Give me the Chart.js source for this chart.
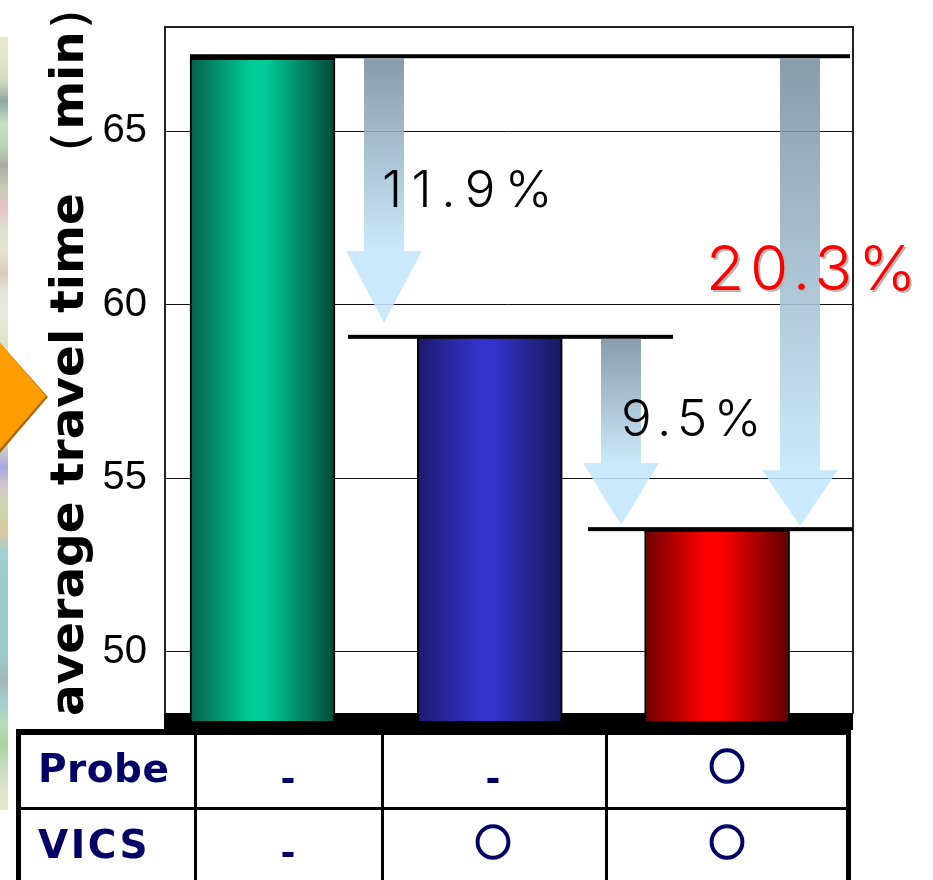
<!DOCTYPE html>
<html>
<head>
<meta charset="utf-8">
<script src="https://cdn.jsdelivr.net/npm/chart.js@4"></script>
<style>
    html, body { margin: 0; padding: 0; background: #fff; }
    canvas { display: block; }
</style>
</head>
<body>
<canvas id="travel-chart" width="933" height="880"></canvas>
<script>
// DATA
const barSlots = [1, 2, 3];
const travelTimes = [67.1, 59.1, 53.5];
const yTicks = [50, 55, 60, 65];
const yTitle = 'average travel time （min）';
const rowNames = ['Probe', 'VICS'];
const probeRow = ['-', '-', '○'];
const vicsRow = ['-', '○', '○'];
const dropLabels = ['11.9%', '9.5%', '20.3%'];

// bar face colours: edge, centre, edge
const barShades = [
    ['#04614a', '#00cc99', '#034a38'],
    ['#1b1b6e', '#3333cc', '#18185e'],
    ['#6e0000', '#ff0000', '#5e0000']
];
const NAVY = '#000066';

// colours of the map sliver down the left edge, top to bottom
const mapBands = ['#e8e8cc', '#dfe6c8', '#d4dcc0', '#8fa6a8', '#c4e0c0', '#bcd8b8', '#a8aca0',
    '#c8ccb4', '#e8c4c8', '#d8e4d0', '#e8e0d0', '#d8ccb8', '#e6e6e0', '#e8e8dc', '#e4e4c8',
    '#cfe0d0', '#b0ccc8', '#d0ccb4', '#c8c4b0', '#d8d4c4', '#a8a8e0', '#d8c8c8', '#c8d8a8',
    '#e0c8a0', '#a0d0d0', '#9ecccc', '#9ecccc', '#9ecccc', '#9ecccc', '#9ac8c8', '#a4b8b8',
    '#a0d0d0', '#b8dcb8', '#a8d4a0', '#c8dcc0', '#dce4c8', '#e8e8c8'];

// swap the flat bar colour for a left-to-right shade once bar positions are known
function shadeBars(chart) {
    chart.getDatasetMeta(0).data.forEach((bar, i) => {
        const g = chart.ctx.createLinearGradient(bar.x - 72, 0, bar.x + 72, 0);
        const s = barShades[i];
        g.addColorStop(0, s[0]);
        g.addColorStop(0.42, s[1]);
        g.addColorStop(0.52, s[1]);
        g.addColorStop(1, s[2]);
        bar.options.backgroundColor = g;
    });
}

// down arrow with a fade from slate to pale blue
function dropArrow(ctx, cx, fromY, headY, tipY) {
    const g = ctx.createLinearGradient(0, fromY, 0, headY);
    g.addColorStop(0, 'rgba(120,143,158,0.88)');
    g.addColorStop(1, 'rgba(196,230,252,0.88)');
    ctx.fillStyle = g;
    ctx.beginPath();
    ctx.moveTo(cx - 20, fromY);
    ctx.lineTo(cx + 20, fromY);
    ctx.lineTo(cx + 20, headY);
    ctx.lineTo(cx + 38, headY);
    ctx.lineTo(cx, tipY);
    ctx.lineTo(cx - 38, headY);
    ctx.lineTo(cx - 20, headY);
    ctx.closePath();
    ctx.fill();
}

function levelLine(ctx, x1, x2, y) {
    ctx.fillStyle = '#000';
    ctx.fillRect(x1, y - 2, x2 - x1, 4);
}

function drawMapEdge(ctx) {
    const g = ctx.createLinearGradient(0, 37, 0, 810);
    mapBands.forEach((c, i) => g.addColorStop(i / (mapBands.length - 1), c));
    ctx.fillStyle = g;
    ctx.fillRect(0, 37, 8, 773);
    // orange pointer
    ctx.fillStyle = '#a86a00';
    ctx.beginPath();
    ctx.moveTo(0, 343);
    ctx.lineTo(48, 397);
    ctx.lineTo(0, 453);
    ctx.closePath();
    ctx.fill();
    ctx.fillStyle = '#ff9c00';
    ctx.beginPath();
    ctx.moveTo(0, 343);
    ctx.lineTo(46, 396);
    ctx.lineTo(0, 449);
    ctx.closePath();
    ctx.fill();
}

function drawSpacedText(ctx, text, x, y, font, color, spacing) {
    ctx.font = font;
    ctx.letterSpacing = spacing;
    ctx.fillStyle = color;
    ctx.fillText(text, x, y);
    ctx.letterSpacing = '0px';
}

function drawCompareTable(ctx) {
    ctx.fillStyle = '#000';
    ctx.fillRect(16, 729, 835, 6);
    ctx.fillRect(16, 729, 5, 151);
    ctx.fillRect(846, 729, 5, 151);
    ctx.fillRect(21, 807, 825, 3);
    [194, 381, 605].forEach(x => ctx.fillRect(x, 735, 3, 145));

    ctx.textAlign = 'left';
    ctx.textBaseline = 'alphabetic';
    drawSpacedText(ctx, rowNames[0], 38, 782, 'bold 39px "DejaVu Sans"', NAVY, '0.5px');
    drawSpacedText(ctx, rowNames[1], 38, 858, 'bold 39px "DejaVu Sans"', NAVY, '2.5px');

    const cols = [288, 493, 727];
    [probeRow, vicsRow].forEach((row, r) => {
        row.forEach((mark, i) => {
            ctx.textAlign = 'center';
            ctx.fillStyle = NAVY;
            if (mark === '-') {
                ctx.font = 'bold 36px "DejaVu Sans"';
                ctx.fillText(mark, cols[i], r ? 865 : 791);
            } else {
                // the ring glyph is hairline at this size, so thicken it
                ctx.font = 'bold 36px "Noto Sans CJK JP"';
                ctx.strokeStyle = NAVY;
                ctx.lineWidth = 2.4;
                ctx.strokeText(mark, cols[i], r ? 856 : 780);
                ctx.fillText(mark, cols[i], r ? 856 : 780);
            }
        });
    });
}

const overlay = {
    id: 'overlay',
    beforeDraw(chart) {
        drawMapEdge(chart.ctx);
    },
    beforeDatasetsDraw(chart) {
        // heavy base band under the bars
        chart.ctx.fillStyle = '#000';
        chart.ctx.fillRect(164, 713, 689, 17);
        shadeBars(chart);
    },
    afterDraw(chart) {
        const ctx = chart.ctx;
        const yS = chart.scales.y;
        const lv = travelTimes.map(v => yS.getPixelForValue(v));

        ctx.save();
        // plot frame
        ctx.strokeStyle = '#222';
        ctx.lineWidth = 2;
        ctx.beginPath();
        ctx.moveTo(165, 714);
        ctx.lineTo(165, 27);
        ctx.lineTo(853, 27);
        ctx.lineTo(853, 714);
        ctx.stroke();

        // level lines sitting on top of each bar
        levelLine(ctx, 190, 850, lv[0] - 2);
        levelLine(ctx, 348, 673, lv[1] + 1);
        levelLine(ctx, 588, 853, lv[2] - 1);

        // drop arrows
        dropArrow(ctx, 384, lv[0], 251, 323);
        dropArrow(ctx, 621, lv[1] + 3, 463, 525);
        dropArrow(ctx, 800, lv[0], 470, 526);

        ctx.textAlign = 'left';
        ctx.textBaseline = 'alphabetic';
        drawSpacedText(ctx, dropLabels[0], 382, 207, '300 51px "Inter"', '#000', '9.5px');
        drawSpacedText(ctx, dropLabels[1], 621, 436, '300 51px "Inter"', '#000', '6.5px');
        drawSpacedText(ctx, dropLabels[2], 708, 292, '300 62px "Inter"', '#b8b8b8', '6px');
        drawSpacedText(ctx, dropLabels[2], 706, 290, '300 62px "Inter"', '#ff0000', '6px');

        // axis title
        ctx.save();
        ctx.translate(83, 716);
        ctx.rotate(-Math.PI / 2);
        drawSpacedText(ctx, yTitle, 0, 0, 'bold 47px "DejaVu Sans"', '#000', '0px');
        ctx.restore();

        drawCompareTable(ctx);
        ctx.restore();
    }
};

function loadTravelChart() {
    const canvas = document.getElementById('travel-chart');
    const context = canvas.getContext('2d');
    new Chart(context, {
        type: 'bar',
        data: {
            datasets: [{
                data: barSlots.map((s, i) => ({ x: s, y: travelTimes[i] })),
                backgroundColor: c => barShades[c.dataIndex || 0][1],
                borderColor: '#000',
                borderWidth: 2,
                barThickness: 145
            }]
        },
        options: {
            responsive: false,
            animation: false,
            layout: { padding: { left: 100, top: 27, right: 80, bottom: 159 } },
            plugins: { legend: { display: false }, tooltip: { enabled: false } },
            scales: {
                x: {
                    type: 'linear',
                    offset: false,
                    min: 0.5666,
                    max: 3.598,
                    ticks: { display: false },
                    grid: { display: false },
                    border: { display: false },
                    afterFit: s => { s.height = 0; }
                },
                y: {
                    min: 48,
                    max: 68,
                    afterFit: s => { s.width = 64; s.paddingTop = 0; s.paddingBottom = 0; },
                    afterBuildTicks: s => { s.ticks = yTicks.map(v => ({ value: v })); },
                    ticks: {
                        color: '#000',
                        padding: 17,
                        font: { family: '"Liberation Sans"', size: 40 }
                    },
                    grid: { color: '#111', lineWidth: 1, drawTicks: false },
                    border: { display: false }
                }
            }
        },
        plugins: [overlay]
    });
}

loadTravelChart();
</script>
</body>
</html>
